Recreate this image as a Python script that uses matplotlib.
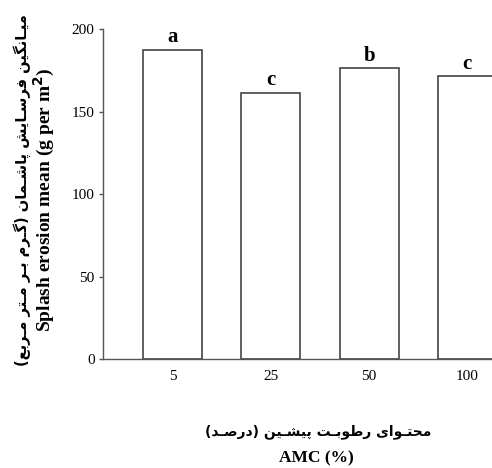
import matplotlib
matplotlib.use("Agg")
import matplotlib.pyplot as plt

categories = ["5", "25", "50", "100"]
values = [187.5, 161.2, 176.3, 171.5]
letters = ["a", "c", "b", "c"]
yticks = [0, 50, 100, 150, 200]

ylabel_fa = "میـانگین فرسـایش پاشـمان (گـرم بـر مـتر مـربع)"
ylabel_en = "Splash erosion mean (g per m$^{\\mathbf{2}}$)"
xlabel_fa = "محتـوای رطوبـت پیشـین (درصـد)"
xlabel_en = "AMC (%)"

# minimal Persian shaping (presentation forms) + visual reordering
FORMS = {
    "ا": ("\uFE8D", "\uFE8E", None, None),
    "ب": ("\uFE8F", "\uFE90", "\uFE91", "\uFE92"),
    "پ": ("\uFB56", "\uFB57", "\uFB58", "\uFB59"),
    "ت": ("\uFE95", "\uFE96", "\uFE97", "\uFE98"),
    "ح": ("\uFEA1", "\uFEA2", "\uFEA3", "\uFEA4"),
    "د": ("\uFEA9", "\uFEAA", None, None),
    "ر": ("\uFEAD", "\uFEAE", None, None),
    "ز": ("\uFEAF", "\uFEB0", None, None),
    "س": ("\uFEB1", "\uFEB2", "\uFEB3", "\uFEB4"),
    "ش": ("\uFEB5", "\uFEB6", "\uFEB7", "\uFEB8"),
    "ص": ("\uFEB9", "\uFEBA", "\uFEBB", "\uFEBC"),
    "ط": ("\uFEC1", "\uFEC2", "\uFEC3", "\uFEC4"),
    "ع": ("\uFEC9", "\uFECA", "\uFECB", "\uFECC"),
    "ف": ("\uFED1", "\uFED2", "\uFED3", "\uFED4"),
    "گ": ("\uFB92", "\uFB93", "\uFB94", "\uFB95"),
    "م": ("\uFEE1", "\uFEE2", "\uFEE3", "\uFEE4"),
    "ن": ("\uFEE5", "\uFEE6", "\uFEE7", "\uFEE8"),
    "و": ("\uFEED", "\uFEEE", None, None),
    "ی": ("\uFBFC", "\uFBFD", "\uFBFE", "\uFBFF"),
    "ـ": ("ـ", "ـ", "ـ", "ـ"),
}


def dual(c):
    return c in FORMS and FORMS[c][2] is not None


def joins(c):
    return c in FORMS


def shape(text):
    out = []
    n = len(text)
    for i, c in enumerate(text):
        if c not in FORMS:
            out.append(c)
            continue
        prev = text[i - 1] if i > 0 else ""
        nxt = text[i + 1] if i + 1 < n else ""
        cp = dual(prev)
        cn = dual(c) and joins(nxt)
        iso, fin, ini, med = FORMS[c]
        if cp and cn:
            out.append(med)
        elif cp:
            out.append(fin)
        elif cn:
            out.append(ini)
        else:
            out.append(iso)
    s = "".join(out)[::-1]
    return s.translate(str.maketrans("()", ")("))


W, H = 492, 468
fig = plt.figure(figsize=(W / 100, H / 100), dpi=100)
ax = fig.add_axes([103 / W, (H - 359) / H, 434 / W, 329.7 / H])

x = list(range(len(categories)))
ax.bar(x, values, width=0.6, color="white", edgecolor="#444444", linewidth=1.2)
ax.set_xlim(-0.71, 3.71)
ax.set_ylim(0, 200)
ax.set_yticks(yticks)
ax.set_xticks(x)
ax.set_xticklabels(categories)
for sp in ["top", "right"]:
    ax.spines[sp].set_visible(False)
for sp in ["left", "bottom"]:
    ax.spines[sp].set_color("#555555")
    ax.spines[sp].set_linewidth(1.0)
ax.tick_params(axis="y", length=3, width=1.0, color="#555555", pad=3,
               labelsize=11)
ax.tick_params(axis="x", length=0, pad=8, labelsize=11)
for lab in ax.get_xticklabels() + ax.get_yticklabels():
    lab.set_fontfamily("Liberation Serif")

for xi, v, l in zip(x, values, letters):
    ax.annotate(l, (xi, v), xytext=(0, 2), textcoords="offset points",
                ha="center", va="bottom", fontsize=15, fontweight="heavy",
                family="Liberation Serif")

fig.text(22 / W, 1 - 190 / H, shape(ylabel_fa), rotation=90, ha="center",
         va="center", fontsize=10.5, fontweight="bold", family="DejaVu Sans")
fig.text(44 / W, 1 - 200 / H, ylabel_en, rotation=90, ha="center",
         va="center", fontsize=14, fontweight="bold",
         family="Liberation Serif")
fig.text(318 / W, 1 - 432 / H, shape(xlabel_fa), ha="center", va="center",
         fontsize=10, fontweight="bold", family="DejaVu Sans")
fig.text(316 / W, 1 - 458 / H, xlabel_en, ha="center", va="center",
         fontsize=12.5, fontweight="bold", family="Liberation Serif")

fig.savefig("out.png", dpi=100)
